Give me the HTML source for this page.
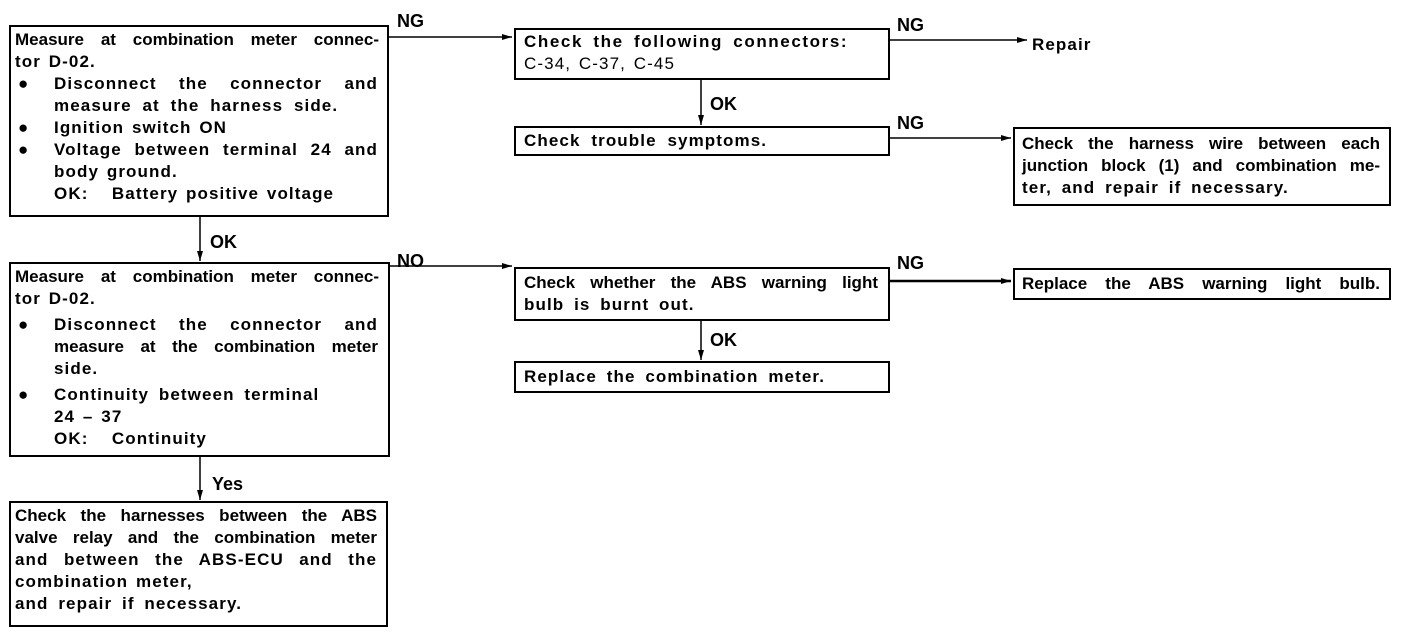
<!DOCTYPE html>
<html><head><meta charset="utf-8"><style>
body{margin:0;width:1408px;height:634px;background:#fff;position:relative;overflow:hidden;font-family:"Liberation Sans",Arial,sans-serif;color:#000}
.b{position:absolute;border:2px solid #000;box-sizing:border-box}
.t{position:absolute;font-size:17px;font-weight:bold;white-space:nowrap;line-height:22px;letter-spacing:1.1px;word-spacing:2px}
.j{text-align:justify;text-align-last:justify;white-space:normal}
.l{position:absolute;font-size:18px;font-weight:bold}
svg{position:absolute;left:0;top:0}
</style></head><body>
<svg width="1408" height="634">
<defs><marker id="a" markerWidth="10" markerHeight="8" refX="10" refY="4" orient="auto" markerUnits="userSpaceOnUse"><path d="M0,1 L10,4 L0,7z" fill="#000"/></marker></defs>
<g stroke="#000" stroke-width="1.5" fill="none">
<line x1="388" y1="37" x2="512" y2="37" marker-end="url(#a)"/>
<line x1="889" y1="40" x2="1027" y2="40" marker-end="url(#a)"/>
<line x1="701" y1="80" x2="701" y2="125" marker-end="url(#a)"/>
<line x1="889" y1="138" x2="1011" y2="138" marker-end="url(#a)"/>
<line x1="200" y1="217" x2="200" y2="261" marker-end="url(#a)"/>
<line x1="389" y1="266" x2="512" y2="266" marker-end="url(#a)"/>
<line x1="889" y1="281" x2="1011" y2="281" stroke-width="2.5" marker-end="url(#a)"/>
<line x1="701" y1="321" x2="701" y2="360" marker-end="url(#a)"/>
<line x1="200" y1="457" x2="200" y2="500" marker-end="url(#a)"/>
</g></svg>

<div class="b" style="left:9px;top:25px;width:380px;height:192px"></div>
<div class="t j" style="left:15px;top:29px;width:364px;letter-spacing:0">Measure at combination meter connec-</div>
<div class="t" style="left:15px;top:51px">tor D-02.</div>
<div class="t" style="left:18px;top:73px">●</div>
<div class="t j" style="left:54px;top:73px;width:324px">Disconnect the connector and</div>
<div class="t" style="left:54px;top:95px;word-spacing:5px">measure at the harness side.</div>
<div class="t" style="left:18px;top:117px">●</div>
<div class="t" style="left:54px;top:117px">Ignition switch ON</div>
<div class="t" style="left:18px;top:139px">●</div>
<div class="t j" style="left:54px;top:139px;width:324px">Voltage between terminal 24 and</div>
<div class="t" style="left:54px;top:161px">body ground.</div>
<div class="t" style="left:54px;top:183px">OK:&nbsp;&nbsp; Battery positive voltage</div>

<div class="l" style="left:397px;top:11px">NG</div>
<div class="b" style="left:514px;top:28px;width:376px;height:52px"></div>
<div class="t" style="left:524px;top:31px;letter-spacing:1.6px;word-spacing:4px">Check the following connectors:</div>
<div class="t" style="left:524px;top:53px;font-weight:normal">C-34, C-37, C-45</div>
<div class="l" style="left:897px;top:15px">NG</div>
<div class="t" style="left:1032px;top:34px">Repair</div>
<div class="l" style="left:710px;top:94px">OK</div>
<div class="b" style="left:514px;top:126px;width:376px;height:30px"></div>
<div class="t" style="left:524px;top:130px;word-spacing:5px">Check trouble symptoms.</div>
<div class="l" style="left:897px;top:113px">NG</div>
<div class="b" style="left:1013px;top:127px;width:378px;height:79px"></div>
<div class="t j" style="left:1022px;top:133px;width:358px;letter-spacing:0">Check the harness wire between each</div>
<div class="t j" style="left:1022px;top:155px;width:358px;letter-spacing:0">junction block (1) and combination me-</div>
<div class="t" style="left:1022px;top:177px;word-spacing:4px">ter, and repair if necessary.</div>

<div class="l" style="left:210px;top:232px">OK</div>
<div class="b" style="left:9px;top:262px;width:381px;height:195px"></div>
<div class="t j" style="left:15px;top:266px;width:364px;letter-spacing:0">Measure at combination meter connec-</div>
<div class="t" style="left:15px;top:288px">tor D-02.</div>
<div class="t" style="left:18px;top:314px">●</div>
<div class="t j" style="left:54px;top:314px;width:324px">Disconnect the connector and</div>
<div class="t j" style="left:54px;top:336px;width:324px;letter-spacing:0">measure at the combination meter</div>
<div class="t" style="left:54px;top:358px">side.</div>
<div class="t" style="left:18px;top:384px">●</div>
<div class="t" style="left:54px;top:384px;word-spacing:4px">Continuity between terminal</div>
<div class="t" style="left:54px;top:406px">24 – 37</div>
<div class="t" style="left:54px;top:428px">OK:&nbsp;&nbsp; Continuity</div>
<div class="l" style="left:397px;top:251px">NO</div>

<div class="b" style="left:514px;top:267px;width:376px;height:54px"></div>
<div class="t j" style="left:524px;top:272px;width:354px;letter-spacing:0">Check whether the ABS warning light</div>
<div class="t" style="left:524px;top:294px;word-spacing:4px">bulb is burnt out.</div>
<div class="l" style="left:897px;top:253px">NG</div>
<div class="b" style="left:1013px;top:268px;width:378px;height:32px"></div>
<div class="t j" style="left:1022px;top:273px;width:358px;letter-spacing:0">Replace the ABS warning light bulb.</div>
<div class="l" style="left:710px;top:330px">OK</div>
<div class="b" style="left:514px;top:361px;width:376px;height:32px"></div>
<div class="t" style="left:524px;top:366px;word-spacing:4px">Replace the combination meter.</div>

<div class="l" style="left:212px;top:474px">Yes</div>
<div class="b" style="left:9px;top:501px;width:379px;height:126px"></div>
<div class="t j" style="left:15px;top:505px;width:362px;letter-spacing:0">Check the harnesses between the ABS</div>
<div class="t j" style="left:15px;top:527px;width:362px;letter-spacing:0">valve relay and the combination meter</div>
<div class="t j" style="left:15px;top:549px;width:362px">and between the ABS-ECU and the</div>
<div class="t" style="left:15px;top:571px">combination meter,</div>
<div class="t" style="left:15px;top:593px;word-spacing:4px">and repair if necessary.</div>
</body></html>
